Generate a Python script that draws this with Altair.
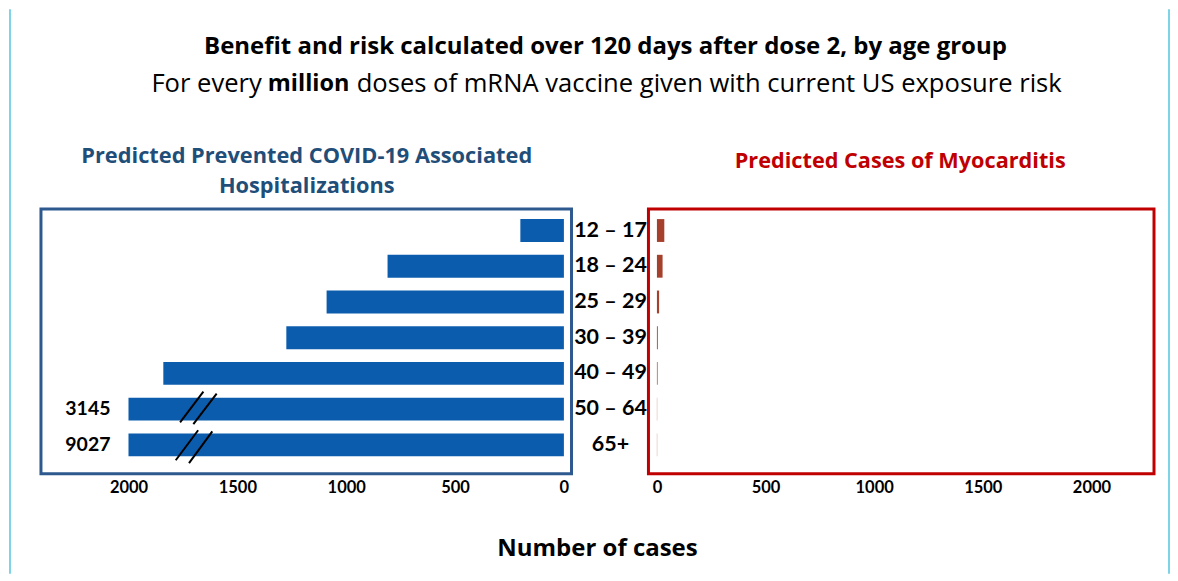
import altair as alt
import pandas as pd

# ---------------- data ----------------
ages = ["12 – 17", "18 – 24", "25 – 29", "30 – 39", "40 – 49", "50 – 64", "65+"]
hosp_prevented = [200, 810, 1090, 1275, 1840, 3145, 9027]
myocarditis = [34, 26, 10, 4, 3, 1, 1]
axis_cap = 2000
ticks = [0, 500, 1000, 1500, 2000]

# axis-break slashes (data units: value, row index)
break_x_low = [1763, 1702, 1783, 1722]
break_x_high = [1656, 1595, 1680, 1615]
break_y_low = [5.37, 5.42, 6.43, 6.51]
break_y_high = [4.51, 4.565, 5.59, 5.62]

FONT = "Lato"
HFONT = "Open Sans"
BLUE_BAR = "#0B5CAD"
RED_BAR = "#A5402D"
BLUE_BOX = "#2E598F"
RED_BOX = "#C00000"
BLUE_TITLE = "#1F4E79"
RED_TITLE = "#C00000"

df = pd.DataFrame({
    "idx": list(range(len(ages))),
    "age": ages,
    "hosp": hosp_prevented,
    "myo": myocarditis,
})
df["shown"] = df["hosp"].clip(upper=axis_cap)
df["label"] = [str(v) if v > axis_cap else "" for v in df["hosp"]]
df["y0"] = df["idx"] - 0.32
df["y1"] = df["idx"] + 0.32

brk = pd.DataFrame({"xl": break_x_low, "xh": break_x_high,
                    "yl": break_y_low, "yh": break_y_high})

PANEL_H = 265
yscale = alt.Scale(domain=[-0.6, 6.81], reverse=True, nice=False, zero=False)

axis_style = dict(values=ticks, title=None, grid=False, domain=False, ticks=False,
                  tickSize=0, labelPadding=6, labelFontSize=16.5, labelFontWeight="bold",
                  labelColor="#000000", labelFont=FONT, format="d")

# ---------------- left panel ----------------
xl = alt.Scale(domain=[-35, 2402], reverse=True, nice=False, zero=False)
base_l = alt.Chart(df)
bars_l = base_l.mark_rect(color=BLUE_BAR).encode(
    x=alt.X("shown:Q", scale=xl, axis=alt.Axis(**axis_style)),
    x2=alt.datum(0),
    y=alt.Y("y0:Q", scale=yscale, axis=None),
    y2="y1:Q",
)
lbl_l = base_l.transform_filter("datum.hosp > 2000").mark_text(
    align="right", baseline="middle", dx=-18, fontSize=19.5, fontWeight="bold",
    font=FONT, color="#000000"
).encode(x="shown:Q", y="idx:Q", text="label:N")
slashes = alt.Chart(brk).mark_rule(color="#000000", strokeWidth=2).encode(
    x="xl:Q", x2="xh:Q", y="yl:Q", y2="yh:Q")
left = alt.layer(bars_l, lbl_l, slashes).properties(
    width=531, height=PANEL_H,
    view=alt.ViewBackground(stroke=BLUE_BOX, strokeWidth=3, fill="white"))

# ---------------- middle labels ----------------
mid_lbl = alt.Chart(df).mark_text(
    align="center", baseline="middle", fontSize=21.5, fontWeight="bold",
    font=FONT, color="#000000"
).encode(x=alt.value(39), y=alt.Y("idx:Q", scale=yscale, axis=None), text="age:N")
xtitle = alt.Chart(pd.DataFrame({"t": ["Number of cases"]})).mark_text(
    align="center", baseline="middle", fontSize=24, fontWeight="bold",
    font=HFONT, color="#000000"
).encode(x=alt.value(26), y=alt.value(340), text="t:N")
mid = alt.layer(mid_lbl, xtitle).properties(
    width=77, height=PANEL_H, view=alt.ViewBackground(stroke=None))

# ---------------- right panel ----------------
xr = alt.Scale(domain=[-39, 2288], nice=False, zero=False)
bars_r = alt.Chart(df).mark_rect(color=RED_BAR).encode(
    x=alt.X("myo:Q", scale=xr, axis=alt.Axis(**axis_style)),
    x2=alt.datum(0),
    y=alt.Y("y0:Q", scale=yscale, axis=None),
    y2="y1:Q",
)
right = bars_r.properties(
    width=506, height=PANEL_H,
    view=alt.ViewBackground(stroke=RED_BOX, strokeWidth=3, fill="white"))

panels = alt.hconcat(left, mid, right, spacing=0, bounds="flush")

# ---------------- header ----------------
def txt(s, x, y, size, weight="normal", color="#000000", align="center"):
    return alt.Chart(pd.DataFrame({"t": [s]})).mark_text(
        align=align, baseline="middle", fontSize=size, fontWeight=weight,
        font=HFONT, color=color
    ).encode(x=alt.value(x), y=alt.value(y), text="t:N")

frame = alt.Chart(pd.DataFrame({"x": [-31, 1129]})).mark_rule(
    color="#7FD3E6", strokeWidth=2).encode(
    x=alt.X("x:Q", scale=alt.Scale(domain=[0, 1114], range=[0, 1114]), axis=None),
    y=alt.value(0), y2=alt.value(565))

header = alt.layer(
    frame,
    txt("Benefit and risk calculated over 120 days after dose 2, by age group", 565, 38, 24, "bold"),
    txt("For every", 221, 75, 25.6, align="right"),
    txt("million", 227, 75, 23.5, "bold", align="left"),
    txt("doses of mRNA vaccine given with current US exposure risk", 316, 75, 25.6, align="left"),
    txt("Predicted Prevented COVID-19 Associated", 266, 147, 21.8, "bold", BLUE_TITLE),
    txt("Hospitalizations", 266, 177, 21.8, "bold", BLUE_TITLE),
    txt("Predicted Cases of Myocarditis", 860, 152, 21.7, "bold", RED_TITLE),
).properties(width=1114, height=200, view=alt.ViewBackground(stroke=None))

chart = alt.vconcat(header, panels, spacing=0, bounds="flush").properties(
    padding={"left": 1, "top": 0, "right": 0, "bottom": 0},
    background="white",
).configure_view(stroke=None)

chart.save("out.html", embed_options={"renderer": "svg", "actions": False})
